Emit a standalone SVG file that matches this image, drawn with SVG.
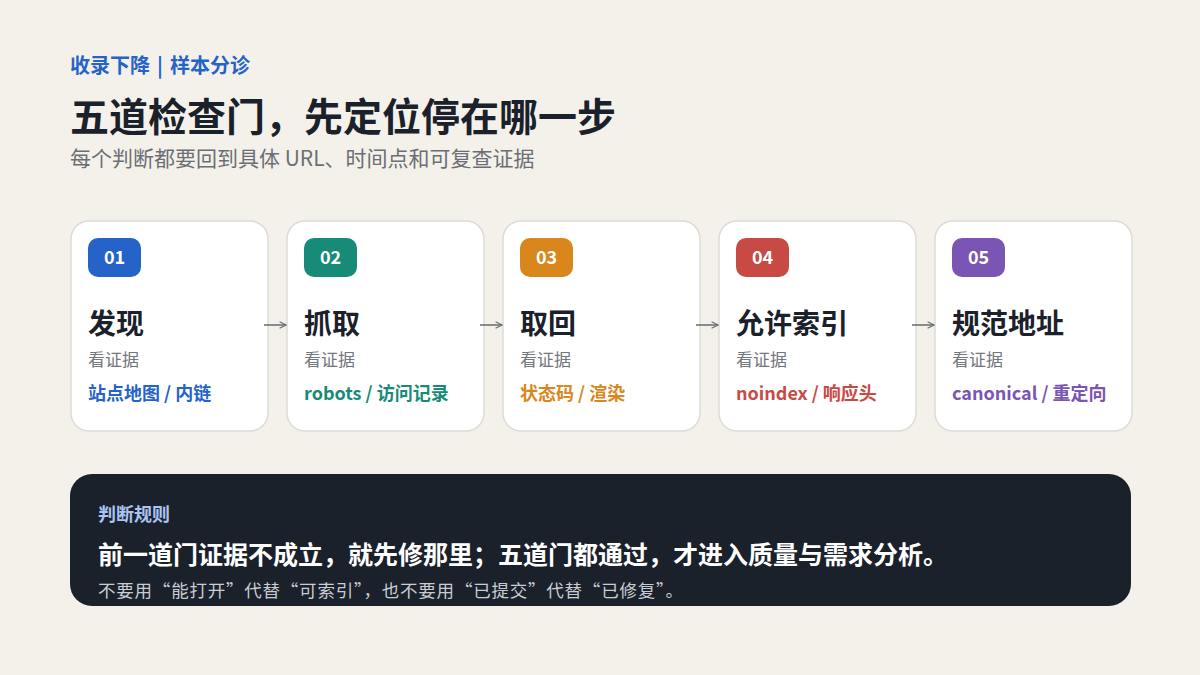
<svg xmlns="http://www.w3.org/2000/svg" width="1200" height="675" viewBox="0 0 1200 675">
<defs>
<style>
text{font-family:"Noto Sans CJK SC","Noto Sans",sans-serif}
.card{fill:#ffffff;stroke:#dcdbd6;stroke-width:1.5}
.badge-t{fill:#ffffff;font-size:18px;font-weight:700;text-anchor:middle}
.h{fill:#1b212b;font-size:28px;font-weight:700}
.sub{fill:#73767b;font-size:17px}
.tag{font-size:18px;font-weight:700}
.conn{stroke:#6e7277;stroke-width:1.6;fill:none}
</style>
<marker id="ah" viewBox="0 0 10 10" refX="9" refY="5" markerWidth="8" markerHeight="8" markerUnits="userSpaceOnUse" orient="auto">
<path d="M1,1 L9,5 L1,9" fill="none" stroke="#6e7277" stroke-width="1.6"/>
</marker>
</defs>
<rect width="1200" height="675" fill="#f4f1ea"/>
<g id="header">
<text y="73" font-size="20" font-weight="700" fill="#2563c9"><tspan x="70">收录下降</tspan><tspan x="157">|</tspan><tspan x="170">样本分诊</tspan></text>
<text x="70" y="131" font-size="39" font-weight="700" fill="#1b212b">五道检查门，先定位停在哪一步</text>
<text x="70" y="166" font-size="21" fill="#6b6f75">每个判断都要回到具体 URL、时间点和可复查证据</text>
</g>
<g id="node-01">
<rect class="card" x="71" y="221" width="197" height="210" rx="18"/>
<rect x="88" y="238" width="53" height="39" rx="10" fill="#2563c9"/>
<text class="badge-t" x="114.5" y="264">01</text>
<text class="h" x="88" y="334">发现</text>
<text class="sub" x="88" y="366">看证据</text>
<text class="tag" x="88" y="400" fill="#2563c9">站点地图 / 内链</text>
</g>
<g id="node-02">
<rect class="card" x="287" y="221" width="197" height="210" rx="18"/>
<rect x="304" y="238" width="53" height="39" rx="10" fill="#178a78"/>
<text class="badge-t" x="330.5" y="264">02</text>
<text class="h" x="304" y="334">抓取</text>
<text class="sub" x="304" y="366">看证据</text>
<text class="tag" x="304" y="400" fill="#178a78">robots / 访问记录</text>
</g>
<g id="node-03">
<rect class="card" x="503" y="221" width="197" height="210" rx="18"/>
<rect x="520" y="238" width="53" height="39" rx="10" fill="#d9861c"/>
<text class="badge-t" x="546.5" y="264">03</text>
<text class="h" x="520" y="334">取回</text>
<text class="sub" x="520" y="366">看证据</text>
<text class="tag" x="520" y="400" fill="#d9861c">状态码 / 渲染</text>
</g>
<g id="node-04">
<rect class="card" x="719" y="221" width="197" height="210" rx="18"/>
<rect x="736" y="238" width="53" height="39" rx="10" fill="#c84a45"/>
<text class="badge-t" x="762.5" y="264">04</text>
<text class="h" x="736" y="334">允许索引</text>
<text class="sub" x="736" y="366">看证据</text>
<text class="tag" x="736" y="400" fill="#c84a45">noindex / 响应头</text>
</g>
<g id="node-05">
<rect class="card" x="935" y="221" width="197" height="210" rx="18"/>
<rect x="952" y="238" width="53" height="39" rx="10" fill="#7a55b3"/>
<text class="badge-t" x="978.5" y="264">05</text>
<text class="h" x="952" y="334">规范地址</text>
<text class="sub" x="952" y="366">看证据</text>
<text class="tag" x="952" y="400" fill="#7a55b3">canonical / 重定向</text>
</g>
<g id="connectors">
<line class="conn" x1="264" y1="325" x2="286" y2="325" marker-end="url(#ah)"/>
<line class="conn" x1="480" y1="325" x2="502" y2="325" marker-end="url(#ah)"/>
<line class="conn" x1="696" y1="325" x2="718" y2="325" marker-end="url(#ah)"/>
<line class="conn" x1="912" y1="325" x2="934" y2="325" marker-end="url(#ah)"/>
</g>
<g id="rule-panel">
<rect x="70" y="474" width="1061" height="132" rx="22" fill="#1b212b"/>
<text x="98" y="521" font-size="18" font-weight="700" fill="#a9c4f5">判断规则</text>
<text x="98" y="564" font-size="25" font-weight="700" fill="#ffffff">前一道门证据不成立，就先修那里；五道门都通过，才进入质量与需求分析。</text>
<text x="98" y="597" font-size="17.5" fill="#c9cdd3" textLength="585" lengthAdjust="spacing">不要用“能打开”代替“可索引”，也不要用“已提交”代替“已修复”。</text>
</g>
</svg>
